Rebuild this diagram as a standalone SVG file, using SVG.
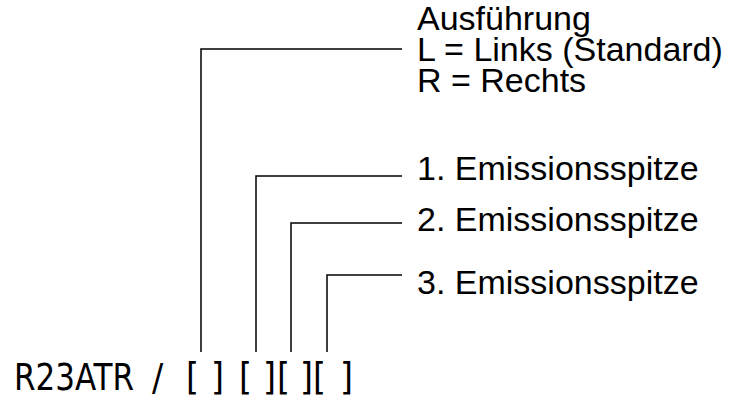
<svg xmlns="http://www.w3.org/2000/svg" width="731" height="398" viewBox="0 0 731 398">
<style>
.ln{fill:none;stroke:#000;stroke-width:1.5}
.lbl{font-family:"Liberation Sans",Arial,sans-serif;font-size:34px;fill:#000}
.code{font-family:"DejaVu Sans Condensed","DejaVu Sans",sans-serif;font-size:37px;fill:#000}
</style>
<rect width="731" height="398" fill="#fff"/>
<g id="connectors">
<polyline class="ln" points="402,49 201,49 201,352"/>
<polyline class="ln" points="402,176 256,176 256,352"/>
<polyline class="ln" points="402,223 291,223 291,352"/>
<polyline class="ln" points="402,275 327,275 327,352"/>
</g>
<g id="code"><text class="code" y="390"><tspan x="14" textLength="120" lengthAdjust="spacingAndGlyphs">R23ATR</tspan><tspan x="152">/</tspan><tspan x="186">[</tspan><tspan x="211">]</tspan><tspan x="239">[</tspan><tspan x="263">]</tspan><tspan x="277">[</tspan><tspan x="300">]</tspan><tspan x="313">[</tspan><tspan x="340">]</tspan></text></g>
<g id="ausfuehrung">
<text class="lbl" x="417" y="30">Ausführung</text>
<text class="lbl" x="417" y="61">L = Links (Standard)</text>
<text class="lbl" x="417" y="92">R = Rechts</text>
</g>
<g id="e1"><text class="lbl" x="417" y="180">1. Emissionsspitze</text></g>
<g id="e2"><text class="lbl" x="417" y="231">2. Emissionsspitze</text></g>
<g id="e3"><text class="lbl" x="417" y="294">3. Emissionsspitze</text></g>
</svg>
